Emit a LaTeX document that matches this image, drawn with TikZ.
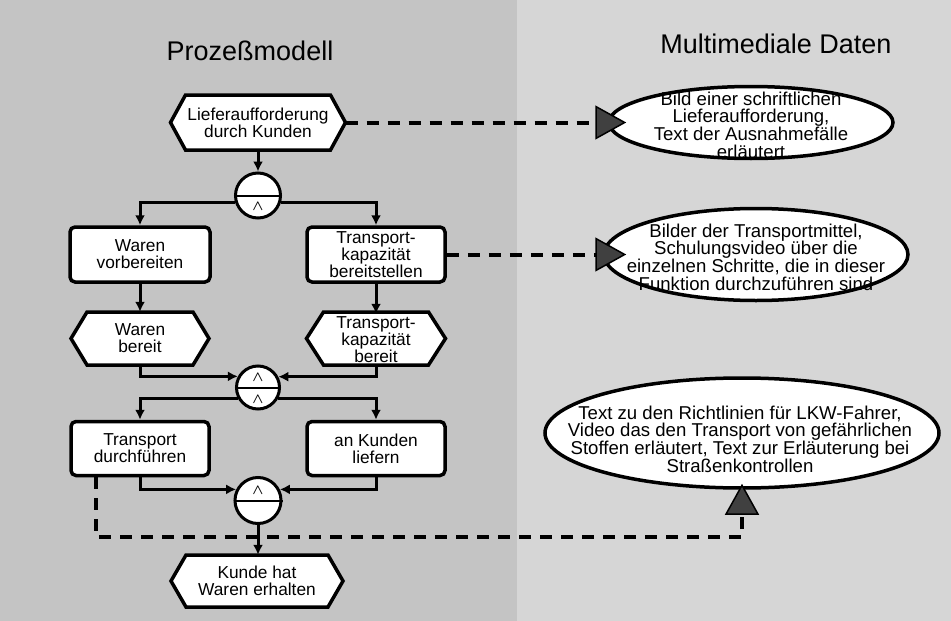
\documentclass[tikz,border=0pt]{standalone}
\usepackage{fontspec}
\setmainfont{Liberation Sans}
\usetikzlibrary{arrows.meta,calc,shapes.geometric}

% hexagonal event frame: centre x, centre y, half width, half height, point depth
\newcommand\evhex[5]{%
  \draw[hexline] (#1-#3,#2) -- (#1-#3+#5,#2-#4) -- (#1+#3-#5,#2-#4)
    -- (#1+#3,#2) -- (#1+#3-#5,#2+#4) -- (#1-#3+#5,#2+#4) -- cycle;}

\tikzset{
  procfont/.style={font=\fontsize{17.3}{17}\selectfont},
  titlefont/.style={font=\fontsize{27}{30}\selectfont},
  hexline/.style={draw=black, line width=3.5pt, fill=white, line join=miter},
  evt/.style={inner sep=0pt, align=center, procfont},
  func/.style={draw, line width=3.5pt, rounded corners=5pt, fill=white,
    minimum width=138pt, minimum height=54pt, inner sep=0pt, align=center, procfont},
  conn/.style={circle, draw, line width=3pt, fill=white, inner sep=0pt},
  andsym/.style={inner sep=0pt, font=\fontsize{14}{14}\selectfont\boldmath},
  flow/.style={line width=3pt, -{Latex[length=10pt,width=10pt]}},
  media/.style={line width=4pt, dash pattern=on 12pt off 9pt,
    -{Triangle[length=31pt,width=34pt,fill=black!75,line width=1.5pt]}},
  mnode/.style={ellipse, draw, line width=3.5pt, fill=white, inner sep=0pt},
  mtext/.style={inner sep=0pt, align=center, font=\fontsize{18.6}{17.6}\selectfont},
}

\begin{document}
\begin{tikzpicture}[x=1pt,y=-1pt]
\useasboundingbox (0,0) rectangle (951,621);

% two panels
\fill[black!23] (0,0) rectangle (517,621);
\fill[black!16] (517,0) rectangle (951,621);

% headings
\node[titlefont] (ttl1) at (250,51) {Prozeßmodell};
\node[titlefont] (ttl2) at (776,44) {Multimediale Daten};

% ---- process chain ----
\evhex{258}{122.5}{87.5}{27.5}{15}
\node[evt, minimum width=175pt, minimum height=55pt] (e1) at (258,122.5)
  {Lieferaufforderung\\durch Kunden};

\node[conn, minimum size=45pt] (c1) at (258,195.5) {};
\draw[line width=2pt] (c1.west) -- (c1.east);
\node[andsym] (c1a) at (258,206) {$\wedge$};

\node[func, minimum width=140pt, minimum height=55pt] (f1) at (140,254.5)
  {Waren\\vorbereiten};
\node[func, minimum height=55pt] (f2) at (376,254.5)
  {Transport-\\kapazität\\bereitstellen};

\evhex{140}{338.5}{69}{26.5}{16}
\node[evt, minimum width=138pt, minimum height=53pt] (e2) at (140,338.5)
  {Waren\\bereit};
\evhex{376}{338.5}{69.5}{26.5}{17}
\node[evt, minimum width=139pt, minimum height=53pt] (e3) at (376,340)
  {Transport-\\kapazität\\bereit};

\node[conn, minimum size=43pt] (c2) at (258,387.5) {};
\draw[line width=2pt] (c2.west) -- (c2.east);
\node[andsym] (c2a) at (258,377) {$\wedge$};
\node[andsym] (c2b) at (258,399) {$\wedge$};

\node[func] (f3) at (140,448.5) {Transport\\durchführen};
\node[func] (f4) at (376,448.5) {an Kunden\\liefern};

\node[conn, minimum size=46pt] (c3) at (258,500.5) {};
\draw[line width=2pt] (c3.west) -- (c3.east);
\node[andsym] (c3a) at (258,490) {$\wedge$};

\evhex{257}{581}{86}{26}{15}
\node[evt, minimum width=172pt, minimum height=52pt] (e4) at (257,581)
  {Kunde hat\\Waren erhalten};

% control flow
\draw[flow] (e1.south) -- (c1.north);
\draw[flow] (c1.198) -| (f1.north);
\draw[flow] (c1.-18) -| (f2.north);
\draw[flow] (f1.south) -- (e2.north);
\draw[flow] (f2.south) -- (e3.north |- f2.south) -- ++(0,30);
\draw[flow] (e2.south) |- (c2.151.6);
\draw[flow] ($(e3.south)+(0,-1.5)$) |- (c2.28.4);
\draw[flow] (c2.208.4) -| (f3.north);
\draw[flow] (c2.-28.4) -| (f4.north);
\draw[flow] (f3.south) |- (c3.153);
\draw[flow] (f4.south) |- (c3.27);
\draw[flow] (c3.south) -- (e4.north -| c3.south);

% ---- multimedia data ----
\node[mnode, minimum width=284pt, minimum height=72pt] (m1) at (751,122.5) {};
\node[mtext] (m1t) at (751,125)
  {Bild einer schriftlichen\\Lieferaufforderung,\\Text der Ausnahmefälle\\erläutert};

\node[mnode, minimum width=304pt, minimum height=92pt] (m2) at (756,254.5) {};
\node[mtext] (m2t) at (756,257)
  {Bilder der Transportmittel,\\Schulungsvideo über die\\einzelnen Schritte, die in dieser\\Funktion durchzuführen sind};

\node[mnode, minimum width=394pt, minimum height=110pt] (m3) at (742,433) {};
\node[mtext] (m3t) at (740,439)
  {Text zu den Richtlinien für LKW-Fahrer,\\Video das den Transport von gefährlichen\\Stoffen erläutert, Text zur Erläuterung bei\\Straßenkontrollen};

% assignments of media to process objects
\draw[media, shorten >=-19pt] (e1.east) -- (m1.west);
\draw[media, shorten >=-24pt] (f2.east) -- (f2.east -| m2.west);
\draw[media, shorten >=-6pt] ($(f3.south west)+(27,0)$) -- ++(0,60) -| (m3.south);
\end{tikzpicture}
\end{document}
